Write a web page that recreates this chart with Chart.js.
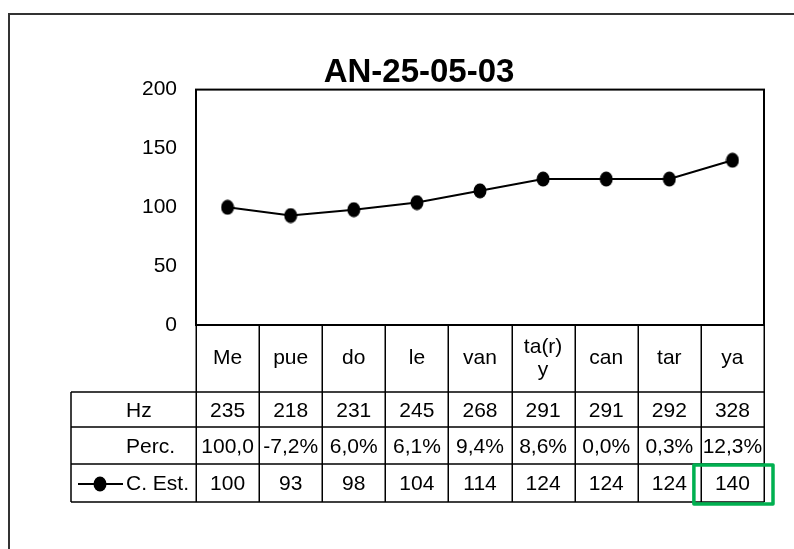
<!DOCTYPE html>
<html><head><meta charset="utf-8">
<script src="https://cdn.jsdelivr.net/npm/chart.js@4.4.1/dist/chart.umd.min.js"></script>
<style>html,body{margin:0;padding:0;background:#fff}#wrap{width:794px;height:549px}</style>
</head><body><div id="wrap"><canvas id="c" width="794" height="549"></canvas></div>
<script>
const chartTitle = 'AN-25-05-03';
const categories = ['Me', 'pue', 'do', 'le', 'van', ['ta(r)', 'y'], 'can', 'tar', 'ya'];
const hzValues = ['235', '218', '231', '245', '268', '291', '291', '292', '328'];
const percValues = ['100,0', '-7,2%', '6,0%', '6,1%', '9,4%', '8,6%', '0,0%', '0,3%', '12,3%'];
const cEstValues = [100, 93, 98, 104, 114, 124, 124, 124, 140];
const rowHeaders = ['Hz', 'Perc.', 'C. Est.'];
const yMin = 0, yMax = 200, yStep = 50;
const highlightIndex = 8;

// detect narrow font
function hasFont(name) {
  const c = document.createElement('canvas').getContext('2d');
  c.font = '30px monospace'; const a = c.measureText('AN-25 Hz Perc.').width;
  c.font = '30px "' + name + '", monospace'; const b = c.measureText('AN-25 Hz Perc.').width;
  return Math.abs(a - b) > 0.5;
}
const NARROW = hasFont('Liberation Sans Narrow');
const FONT = NARROW ? '"Liberation Sans Narrow", "Liberation Sans", Arial, sans-serif' : '"Liberation Sans", Arial, sans-serif';
const FS = NARROW ? 24 : 21;
const TFS = NARROW ? 39 : 33;

const dot = (() => {
  const c = document.createElement('canvas'); c.width = 14; c.height = 16;
  const g = c.getContext('2d'); g.fillStyle = '#000';
  g.beginPath(); g.ellipse(7, 8, 6.5, 7.5, 0, 0, Math.PI * 2); g.fill();
  return c;
})();

const tablePlugin = {
  id: 'tablePlugin',
  beforeDraw(chart) {
    const ctx = chart.ctx;
    ctx.save();
    ctx.fillStyle = '#fff'; ctx.fillRect(0, 0, chart.width, chart.height);
    ctx.strokeStyle = '#333'; ctx.lineWidth = 2;
    ctx.strokeRect(9, 14, 900, 700);
    ctx.restore();
  },
  afterDatasetsDraw(chart) {
    const ctx = chart.ctx, ca = chart.chartArea, xs = chart.scales.x;
    const n = categories.length, cw = (ca.right - ca.left) / n;
    const tableLeft = 71;
    const rowLines = [xs.bottom, xs.bottom + 35, xs.bottom + 72, xs.bottom + 110];
    const tableBottom = rowLines[3];
    ctx.save();
    ctx.strokeStyle = '#000'; ctx.lineWidth = 2;
    ctx.strokeRect(ca.left, ca.top, ca.right - ca.left, ca.bottom - ca.top);
    ctx.lineWidth = 1.5;
    ctx.beginPath();
    for (let i = 0; i <= n; i++) {
      const x = Math.round(ca.left + i * cw) + 0.25;
      ctx.moveTo(x, ca.bottom); ctx.lineTo(x, tableBottom);
    }
    ctx.moveTo(tableLeft, rowLines[0]); ctx.lineTo(tableLeft, tableBottom);
    rowLines.forEach(y => { ctx.moveTo(tableLeft, y); ctx.lineTo(ca.right, y); });
    ctx.stroke();
    ctx.fillStyle = '#000';
    ctx.font = FS + 'px ' + FONT;
    ctx.textBaseline = 'middle';
    const rows = [hzValues, percValues, cEstValues];
    rows.forEach((vals, r) => {
      const yc = (rowLines[r] + rowLines[r + 1]) / 2 + 1.5;
      ctx.textAlign = 'left';
      ctx.fillText(rowHeaders[r], 126, yc);
      ctx.textAlign = 'center';
      vals.forEach((v, i) => ctx.fillText(String(v), xs.getPixelForValue(i), yc));
    });
    const ky = (rowLines[2] + rowLines[3]) / 2 + 1;
    ctx.lineWidth = 2;
    ctx.beginPath(); ctx.moveTo(78, ky); ctx.lineTo(123, ky); ctx.stroke();
    ctx.drawImage(dot, 100 - 7, ky - 8);
    const hx0 = ca.left + highlightIndex * cw;
    ctx.strokeStyle = '#00B050'; ctx.lineWidth = 3.5; ctx.lineJoin = 'round';
    ctx.strokeRect(hx0 - 7, rowLines[2] + 1, cw + 16, rowLines[3] - rowLines[2] + 1);
    ctx.restore();
  }
};

const titleLH = 1.0, titlePadTop = 9;
const padTop = 89.6 - titlePadTop - TFS * titleLH;

new Chart(document.getElementById('c'), {
  type: 'line',
  data: {
    labels: categories,
    datasets: [{
      label: 'C. Est.',
      data: cEstValues,
      borderColor: '#000',
      borderWidth: 2,
      pointStyle: dot,
      pointRadius: 7,
      tension: 0
    }]
  },
  options: {
    responsive: false,
    devicePixelRatio: 1,
    animation: false,
    layout: { padding: { left: 74, right: 30, top: padTop, bottom: 157 } },
    plugins: {
      legend: { display: false },
      tooltip: { enabled: false },
      title: {
        display: true, text: chartTitle, color: '#000',
        font: { family: FONT, size: TFS, weight: 'bold', lineHeight: titleLH },
        padding: { top: titlePadTop, bottom: 0 }
      }
    },
    scales: {
      x: {
        offset: true,
        grid: { display: false, drawTicks: false },
        border: { display: false },
        ticks: { color: '#000', font: { family: FONT, size: FS, lineHeight: 1.1 }, padding: 22, maxRotation: 0, autoSkip: false, crossAlign: 'center' },
        afterFit(s) { s.height = 67; }
      },
      y: {
        min: yMin, max: yMax,
        grid: { display: false, drawTicks: false },
        border: { display: false },
        ticks: { stepSize: yStep, color: '#000', font: { family: FONT, size: FS }, padding: 19 },
        afterFit(s) { s.width = 122; }
      }
    }
  },
  plugins: [tablePlugin]
});
</script></body></html>
